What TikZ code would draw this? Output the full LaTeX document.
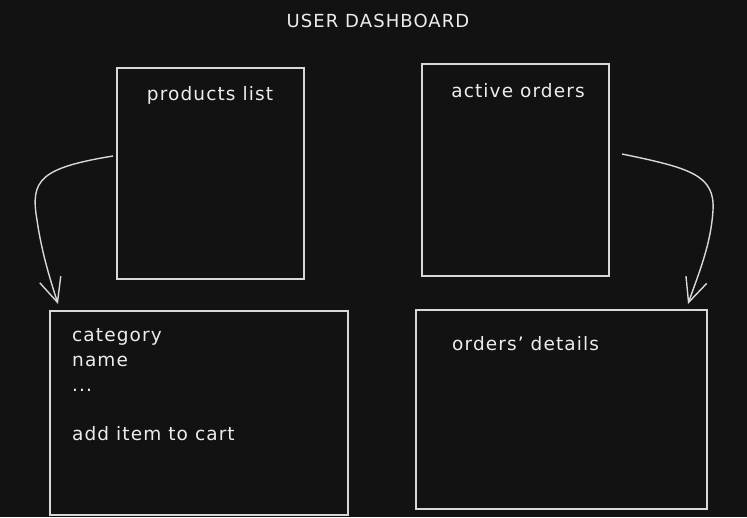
\documentclass[tikz,border=0pt]{standalone}
\usepackage{fontspec}
\setmainfont{DejaVu Sans}[LetterSpace=6]
\usetikzlibrary{arrows.meta}
\definecolor{bg}{HTML}{121212}
\definecolor{ink}{HTML}{D8D8D8}
\definecolor{txt}{HTML}{EDEDED}
\begin{document}
\begin{tikzpicture}[x=1pt,y=-1pt,
  panel/.style={draw=ink,line width=1.4pt},
  lbl/.style={text=txt,font=\fontsize{18.5}{20}\selectfont,inner sep=0pt},
  conn/.style={draw=ink,line width=1.4pt,-{Straight Barb[length=24pt,width=22pt,line width=1.4pt]}}]
\fill[bg] (0,0) rectangle (747,517);
\useasboundingbox (0,0) rectangle (747,517);
\node[lbl,font=\fontsize{18}{20}\selectfont] (title) at (378,21) {USER DASHBOARD};
\draw[panel] (117,68) rectangle (304,279);
\node[lbl] (plist) at (210,95) {products list};
\draw[panel] (422,64) rectangle (609,276);
\node[lbl] (aorders) at (518,91) {active orders};
\draw[panel] (50,311) rectangle (348,515);
\node[lbl,anchor=base west] (cat) at (72,341) {category};
\node[lbl,anchor=base west] (nm) at (72,366) {name};
\node[lbl,anchor=base west] (dots) at (72,391) {...};
\node[lbl,anchor=base west] (add) at (72,440) {add item to cart};
\draw[panel] (416,310) rectangle (707,509);
\node[lbl,anchor=base west] (odet) at (452,350) {orders{\char"27} details};
\coordinate (ls) at (113,156);
\coordinate (le) at (58,304);
\coordinate (rs) at (622,154);
\coordinate (re) at (688,304);
\draw[conn] (ls) .. controls (40,168) and (30,180) .. (37,220) .. controls (42,255) and (52,285) .. (le);
\draw[conn] (rs) .. controls (690,168) and (715,175) .. (713,210) .. controls (711,245) and (698,275) .. (re);
\end{tikzpicture}
\end{document}
